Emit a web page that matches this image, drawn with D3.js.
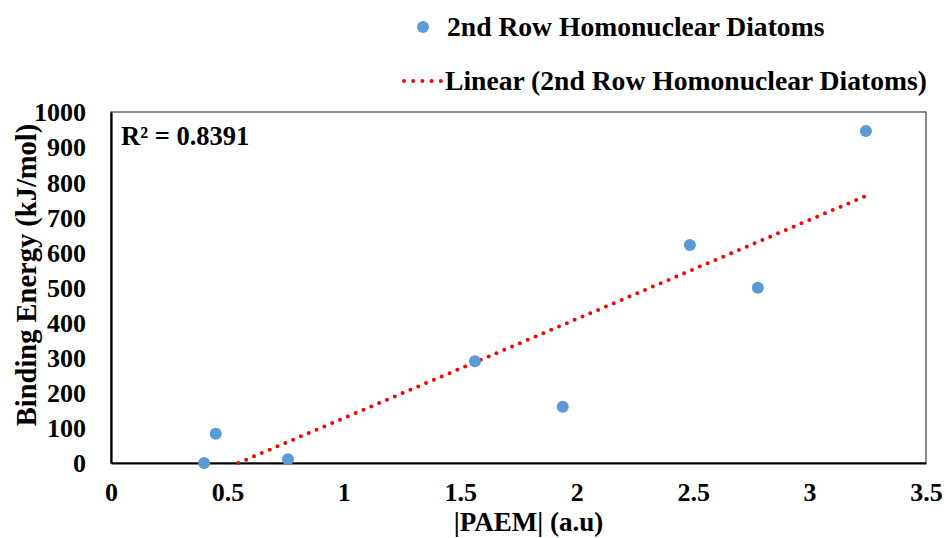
<!DOCTYPE html>
<html><head><meta charset="utf-8">
<script src="https://cdn.jsdelivr.net/npm/d3@7"></script>
<style>body{margin:0;background:#fff}svg{display:block}text{font-family:"Liberation Serif","Times New Roman",serif;font-weight:bold;fill:#000}</style>
</head><body><svg id="c" width="946" height="538"></svg>
<script>
const paem = [0.40, 0.45, 0.76, 1.563, 1.94, 2.486, 2.778, 3.242];
const bindingEnergy = [0, 83, 11, 290, 160, 621, 499, 946];
const xTicks = [0, 0.5, 1, 1.5, 2, 2.5, 3, 3.5];
const yTicks = [0, 100, 200, 300, 400, 500, 600, 700, 800, 900, 1000];
const seriesName = "2nd Row Homonuclear Diatoms";
const trendName = "Linear (2nd Row Homonuclear Diatoms)";
const r2Label = "R² = 0.8391";

const svg = d3.select("#c");
const L = 111, R = 926, T = 112, B = 463;
const x = d3.scaleLinear().domain([0, 3.5]).range([L, R]);
const y = d3.scaleLinear().domain([0, 1000]).range([B, T]);

// frame
svg.append("rect").attr("x", L).attr("y", T).attr("width", R - L).attr("height", B - T)
  .attr("fill", "none").attr("stroke", "#404040").attr("stroke-width", 1.2);

// axes
const xa = svg.append("g").attr("transform", `translate(0,${B})`)
  .call(d3.axisBottom(x).tickValues(xTicks).tickSize(0).tickPadding(20).tickFormat(d => String(d)));
const ya = svg.append("g").attr("transform", `translate(${L},0)`)
  .call(d3.axisLeft(y).tickValues(yTicks).tickSize(0).tickPadding(25).tickFormat(d => String(d)));
[xa, ya].forEach(g => {
  g.select(".domain").attr("stroke", "#000").attr("stroke-width", 2.2);
  g.selectAll("text").style("font-family", '"Liberation Serif",serif').style("font-weight", "bold")
    .style("font-size", "26px").attr("fill", "#000");
});
xa.selectAll("text").attr("dy", "0.71em");
ya.selectAll("text").attr("dy", "0.34em");

// regression
const mx = d3.mean(paem), my = d3.mean(bindingEnergy);
let sxy = 0, sxx = 0;
paem.forEach((v, i) => { sxy += (v - mx) * (bindingEnergy[i] - my); sxx += (v - mx) ** 2; });
const slope = sxy / sxx, icpt = my - slope * mx;
const x0 = Math.max(d3.min(paem), -icpt / slope), x1 = d3.max(paem);
svg.append("line").attr("x1", x(x0)).attr("y1", y(slope * x0 + icpt))
  .attr("x2", x(x1)).attr("y2", y(slope * x1 + icpt))
  .attr("stroke", "#ff0000").attr("stroke-width", 4).attr("stroke-linecap", "round")
  .attr("stroke-dasharray", "0 8.5");

// points
svg.append("g").selectAll("circle").data(paem).join("circle")
  .attr("cx", d => x(d)).attr("cy", (d, i) => y(bindingEnergy[i])).attr("r", 6)
  .attr("fill", "#5b9bd5");

// R2
svg.append("text").attr("x", 121).attr("y", 145).style("font-size", "26.5px").text(r2Label);

// titles
svg.append("text").attr("x", (L + R) / 2 + 10).attr("y", 531).attr("text-anchor", "middle")
  .style("font-size", "27px").text("|PAEM| (a.u)");
svg.append("text").attr("transform", `translate(36,${(T + 438) / 2}) rotate(-90)`)
  .attr("text-anchor", "middle").style("font-size", "28.5px").text("Binding Energy (kJ/mol)");

// legend
svg.append("circle").attr("cx", 423).attr("cy", 27).attr("r", 6).attr("fill", "#5b9bd5");
svg.append("text").attr("x", 447).attr("y", 36).style("font-size", "27.6px").text(seriesName);
svg.append("line").attr("x1", 404).attr("x2", 441).attr("y1", 81).attr("y2", 81)
  .attr("stroke", "#ff0000").attr("stroke-width", 4).attr("stroke-linecap", "round")
  .attr("stroke-dasharray", "0 9.2");
svg.append("text").attr("x", 445).attr("y", 90).style("font-size", "27.6px").text(trendName);
</script></body></html>
